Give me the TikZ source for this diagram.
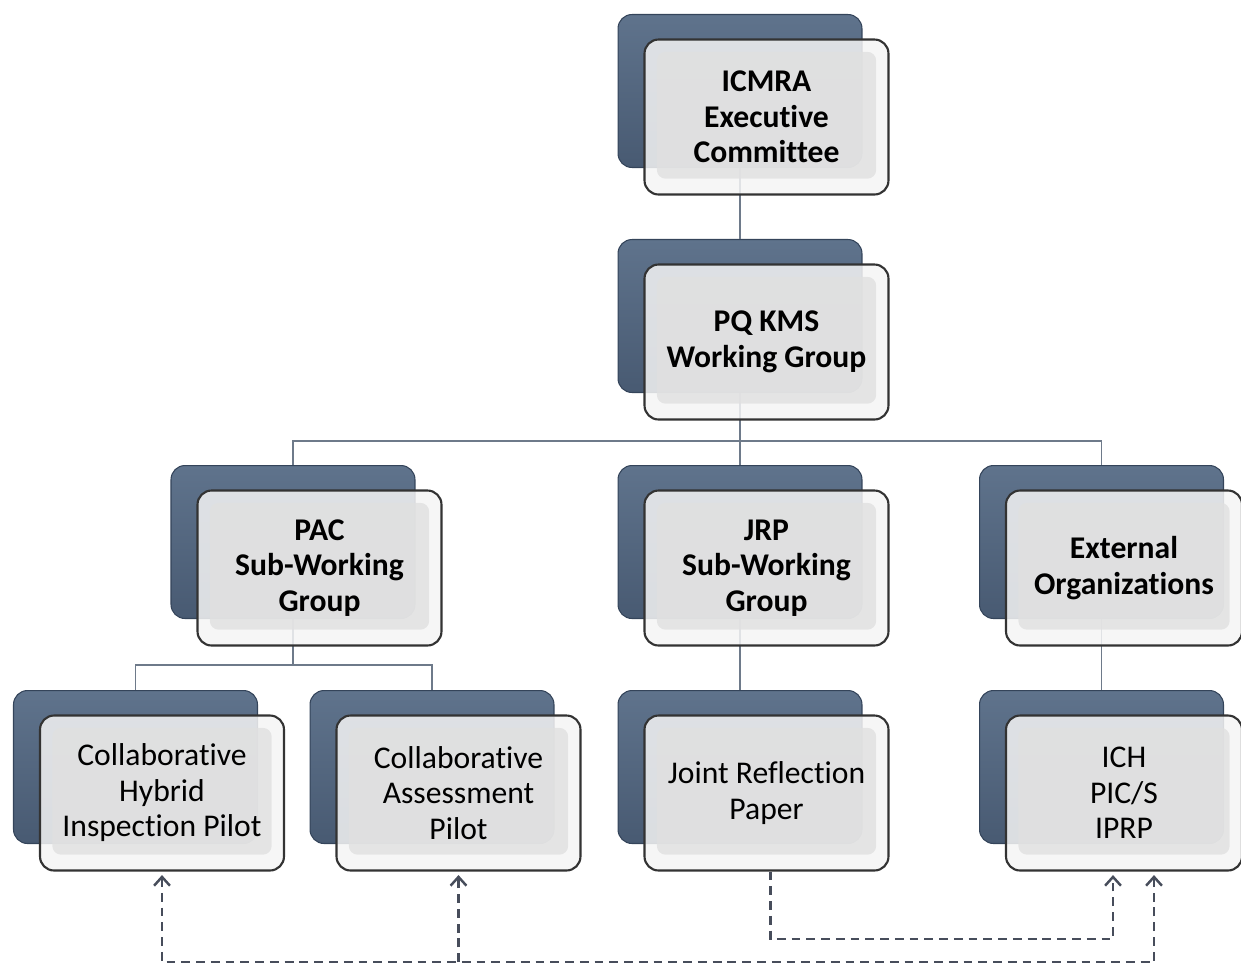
\documentclass[tikz,border=0pt]{standalone}
\usepackage{fontspec}
\setmainfont{Carlito}[Ligatures={NoCommon}]
\usetikzlibrary{arrows.meta}
\definecolor{slateT}{HTML}{5F738C}
\definecolor{slateB}{HTML}{485A72}
\definecolor{slateD}{HTML}{34445A}
\definecolor{cardfill}{HTML}{F5F5F5}
\definecolor{cardin}{HTML}{E0E0E0}
\definecolor{linkgray}{HTML}{6E7A8A}
\definecolor{dashgray}{HTML}{474D5B}

\begin{document}
\begin{tikzpicture}[x=0.02cm, y=-0.02cm, font=\fontsize{18}{20.2}\selectfont]
  \tikzset{
    back/.style={rectangle, rounded corners=0.28cm, minimum width=4.88cm, minimum height=3.06cm,
      top color=slateT, bottom color=slateB, draw=slateD, line width=0.6pt},
    card/.style={rectangle, rounded corners=0.28cm, minimum width=4.88cm, minimum height=3.1cm,
      fill=cardfill, fill opacity=0.85, text opacity=1, draw=black!80, line width=1.2pt,
      align=center, inner sep=2pt,
      path picture={\fill[cardin, fill opacity=0.8, rounded corners=5pt]
        ([shift={(7pt,-7pt)}]path picture bounding box.north west) rectangle
        ([shift={(-7pt,9pt)}]path picture bounding box.south east);}},
    link/.style={draw=linkgray, line width=0.9pt},
    dlink/.style={draw=dashgray, line width=1.4pt, dash pattern=on 5pt off 3.4pt,
      >={Straight Barb[length=5pt, width=9pt]}}
  }
  \useasboundingbox (0,0) rectangle (1241,965);

  % back plates
  \node[back] (icmraB) at (740,91) {};
  \node[back] (pqB) at (740,316) {};
  \node[back] (pacB) at (293,542) {};
  \node[back] (jrpB) at (740,542) {};
  \node[back] (extB) at (1101.5,542) {};
  \node[back] (chipB) at (135.5,767) {};
  \node[back] (caB) at (432,767) {};
  \node[back] (jrB) at (740,767) {};
  \node[back] (ichB) at (1101.5,767) {};

  % tree
  \coordinate (bus) at (740,441);
  \coordinate (pacbus) at (293,665);
  \draw[link] (icmraB.south) -- (pqB.north);
  \draw[link] (pqB.south) -- (bus) -| (pacB.north);
  \draw[link] (bus) -| (extB.north);
  \draw[link] (bus) -- (jrpB.north);
  \draw[link] (pacB.south) -- (pacbus) -| (chipB.north);
  \draw[link] (pacbus) -| (caB.north);
  \draw[link] (jrpB.south) -- (jrB.north);
  \draw[link] (extB.south) -- (ichB.north);

  % cards
  \node[card] (icmra) at ([shift={(26.5,26)}]icmraB) {\bfseries ICMRA\\\bfseries Executive\\\bfseries Committee};
  \node[card] (pq) at ([shift={(26.5,26)}]pqB) {\bfseries PQ KMS\\\bfseries Working Group};
  \node[card] (pac) at ([shift={(26.5,26)}]pacB) {\bfseries PAC\\\bfseries Sub-Working\\\bfseries Group};
  \node[card] (jrp) at ([shift={(26.5,26)}]jrpB) {\bfseries JRP\\\bfseries Sub-Working\\\bfseries Group};
  \node[card, minimum width=4.72cm] (ext) at ([shift={(22.5,26)}]extB) {\bfseries External\\\bfseries Organizations};
  \node[card] (chip) at ([shift={(26.5,26)}]chipB) {Collaborative\\Hybrid\\Inspection Pilot};
  \node[card] (ca) at ([shift={(26.5,26)}]caB) {Collaborative\\Assessment\\Pilot};
  \node[card] (jr) at ([shift={(26.5,26)}]jrB) {Joint Reflection\\Paper};
  \node[card, minimum width=4.72cm] (ich) at ([shift={(22.5,26)}]ichB) {ICH\\PIC/S\\IPRP};

  % dashed links
  \coordinate (low) at (0,962);
  \coordinate (mid) at (0,939);
  \draw[dlink, <->, shorten <=2pt, shorten >=2pt] (chip.south) -- (chip.south |- low) -| ([shift={(30,0)}]ich.south);
  \draw[dlink, ->, shorten >=2pt] (ca.south |- low) -- (ca.south);
  \draw[dlink, ->, shorten >=2pt] ([shift={(4,0)}]jr.south) -- ([shift={(4,0)}]jr.south |- mid) -| ([shift={(-11,0)}]ich.south);
\end{tikzpicture}
\end{document}
